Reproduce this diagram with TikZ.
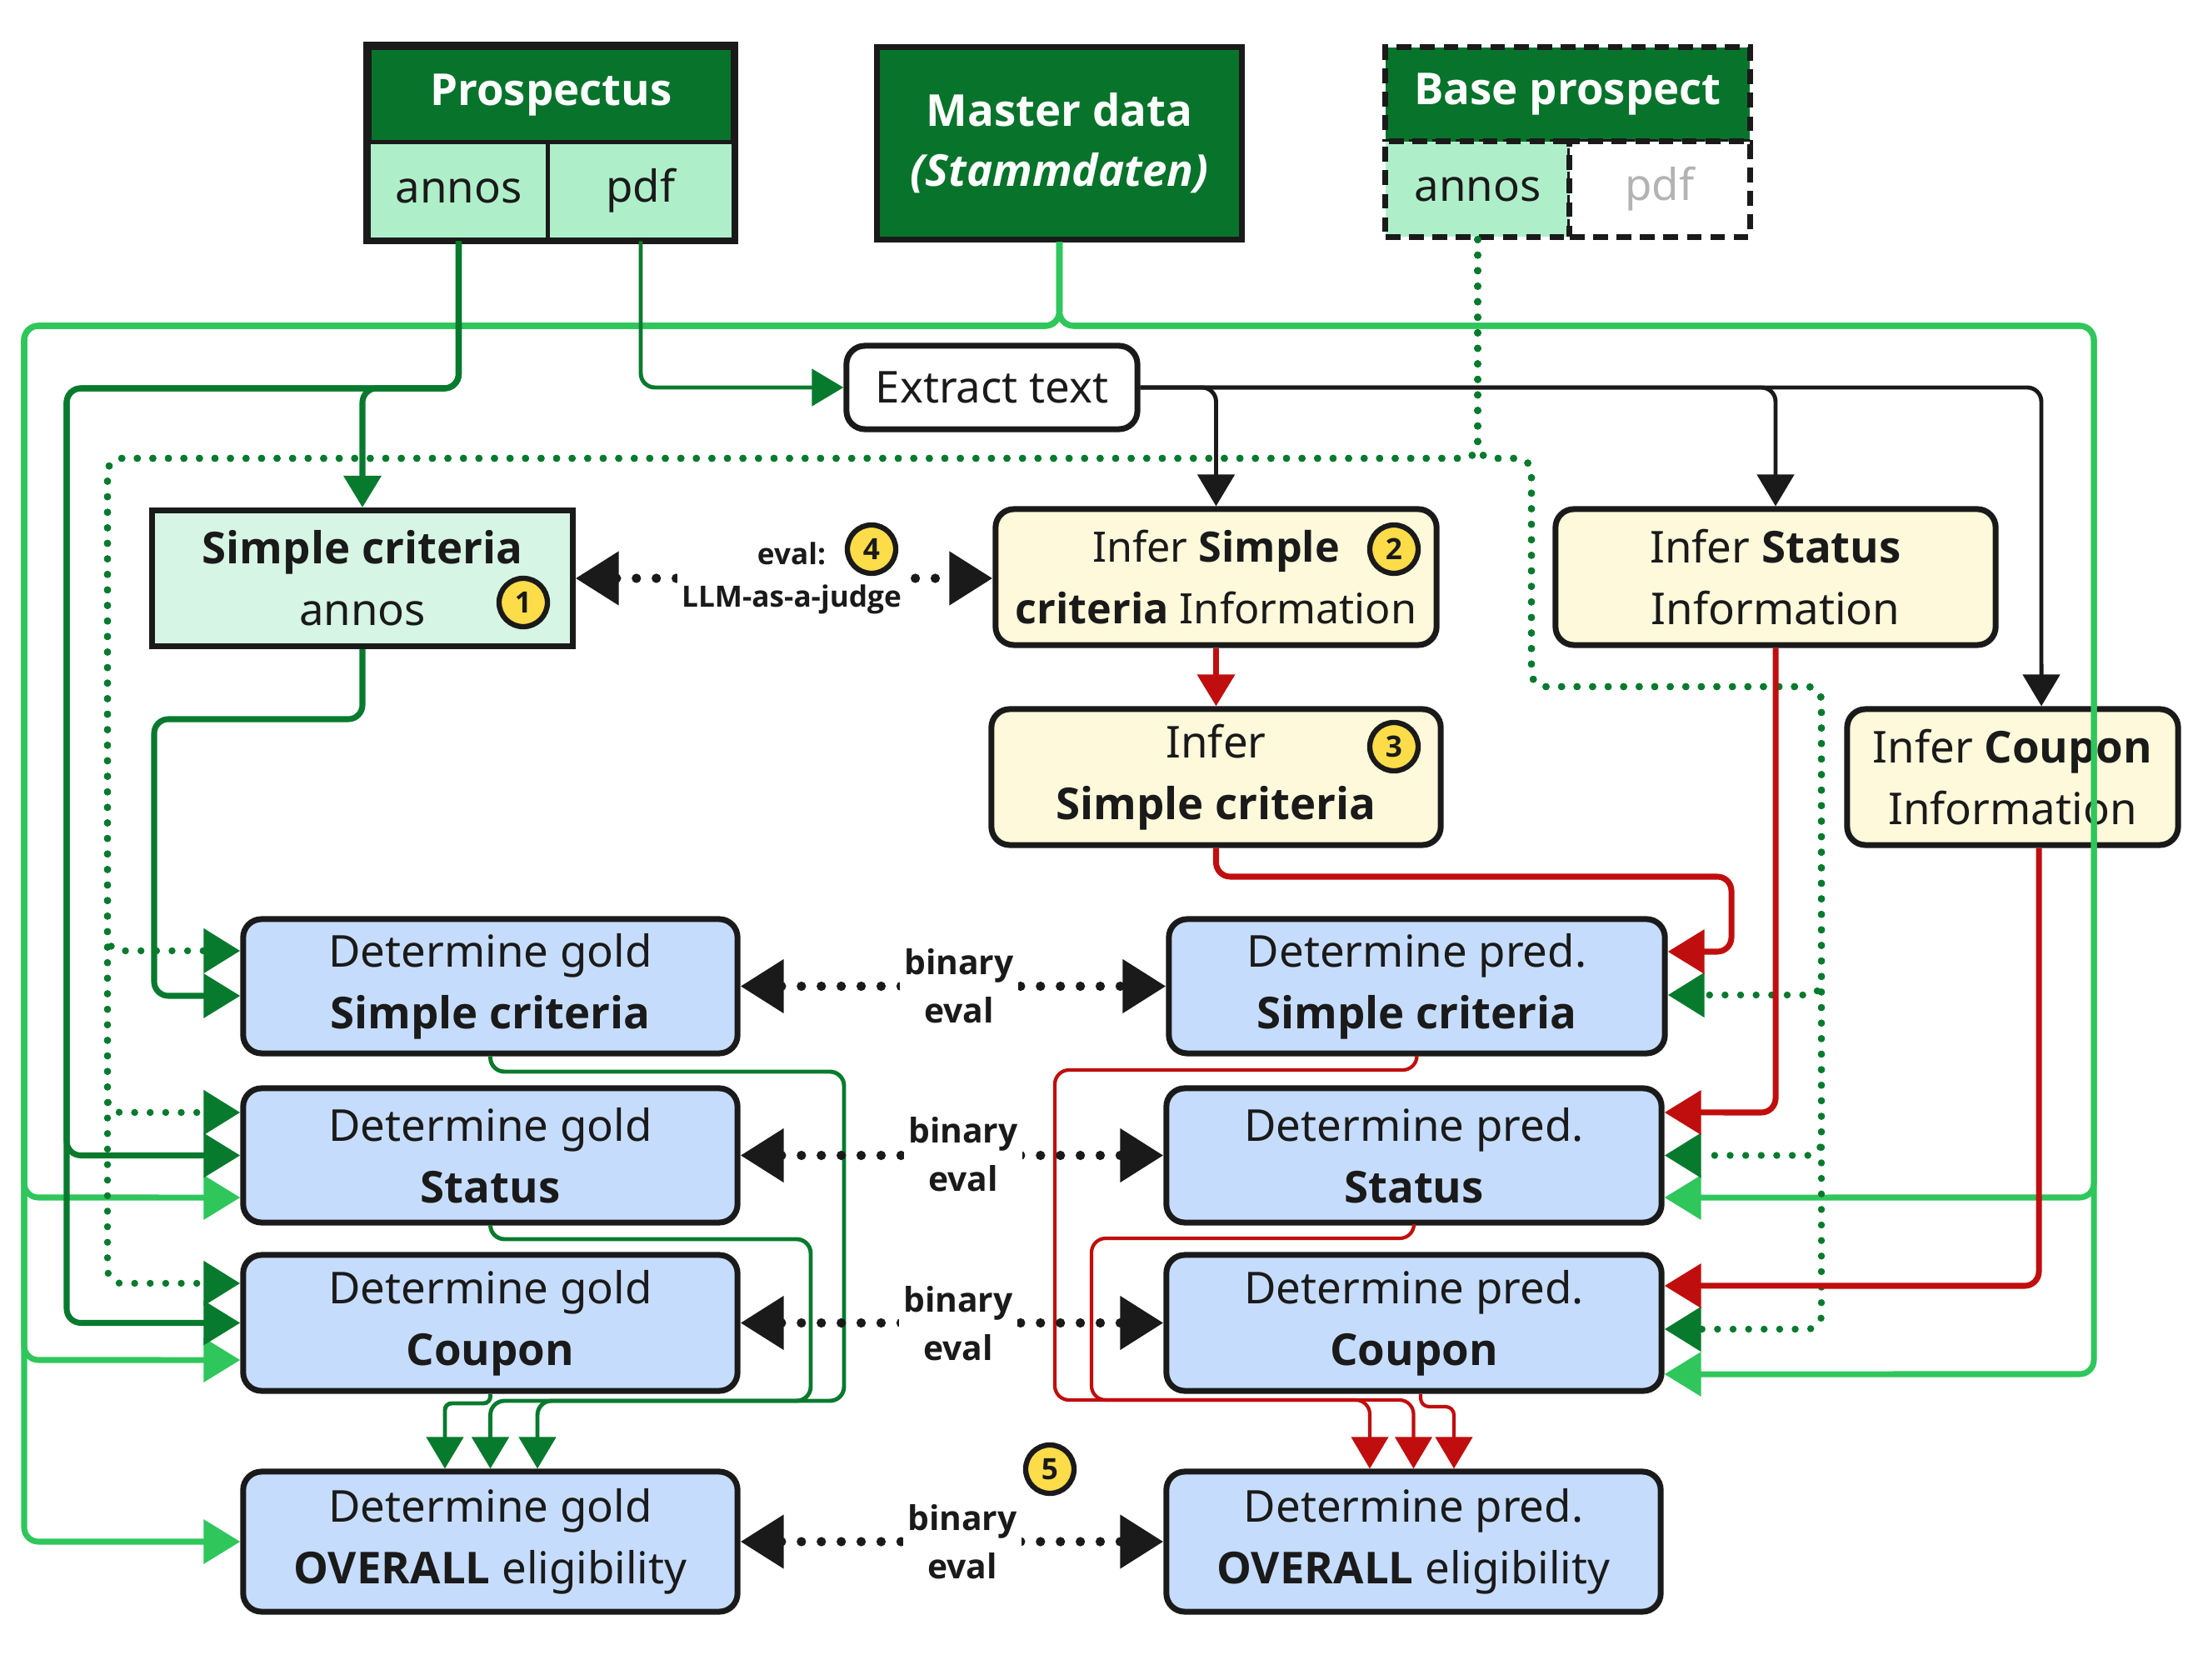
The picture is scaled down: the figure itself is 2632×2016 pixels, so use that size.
\documentclass[tikz,border=0pt]{standalone}
\usepackage{fontspec}
\setmainfont{Noto Sans}
\newfontfamily\osb{Open Sans}
\newcommand\B[1]{{\osb\bfseries #1}}
\usetikzlibrary{arrows.meta,calc}
\definecolor{hdrgreen}{HTML}{08732B}
\definecolor{lngreen}{HTML}{087A2E}
\definecolor{ltgreen}{HTML}{2FC65C}
\definecolor{mint}{HTML}{AEEFC9}
\definecolor{mintlt}{HTML}{D6F5E4}
\definecolor{cream}{HTML}{FEF9DB}
\definecolor{bluebox}{HTML}{C6DCFC}
\definecolor{redl}{HTML}{C00E0E}
\definecolor{badgey}{HTML}{FDDC4A}
\definecolor{ink}{HTML}{1A1A1A}
\definecolor{greytxt}{HTML}{B3B3B3}
\begin{document}
\begin{tikzpicture}[x=0.01cm,y=-0.01cm,
  base/.style={draw=ink,line width=2pt,text=ink,align=center,inner sep=0pt,font=\fontsize{15}{21}\selectfont},
  hdr/.style={base,fill=hdrgreen,text=white,font=\fontsize{15}{20.5}\selectfont\osb\bfseries},
  cell/.style={base,fill=mint,line width=1.4pt},
  dsh/.style={dash pattern=on 5pt off 3pt},
  rbox/.style={base,rounded corners=0.22cm},
  bluen/.style={rbox,fill=bluebox,minimum width=5.93cm,minimum height=1.61cm},
  infer/.style={rbox,fill=cream,minimum height=1.63cm},
  badge/.style={circle,draw=ink,line width=1.8pt,fill=badgey,inner sep=0pt,minimum size=0.58cm,font=\fontsize{10}{10}\selectfont\osb\bfseries,text=ink},
  lbl/.style={fill=white,inner sep=1.5pt,align=center,text=ink,font=\fontsize{10}{14.5}\selectfont\osb\bfseries},
  lblb/.style={fill=white,inner sep=1.5pt,align=center,text=ink,font=\fontsize{11.6}{16.5}\selectfont\osb\bfseries},
  conn/.style={rounded corners=0.17cm},
  tipS/.style={-{Triangle[length=0.38cm,width=0.44cm]}},
  tipL/.style={-{Triangle[length=0.44cm,width=0.52cm]}},
  dkthick/.style={conn,draw=lngreen,line width=2pt},
  dkthin/.style={conn,draw=lngreen,line width=1.4pt},
  ltline/.style={conn,draw=ltgreen,line width=2pt},
  dotg/.style={conn,draw=lngreen,line width=2.4pt,line cap=round,dash pattern=on 0pt off 5.3pt},
  blk/.style={conn,draw=ink,line width=1.4pt},
  redthick/.style={conn,draw=redl,line width=2pt},
  redthin/.style={conn,draw=redl,line width=1.2pt},
  dotb/.style={draw=ink,line width=3.2pt,line cap=round,dash pattern=on 0pt off 6.8pt,
    {Triangle[length=0.52cm,width=0.62cm]}-{Triangle[length=0.52cm,width=0.62cm]}}
]
\useasboundingbox (0,0) rectangle (2632,2016);

% ---------- top sources ----------
\node[hdr,minimum width=4.37cm,minimum height=1.14cm] (proshdr) at (661.5,114) {Prospectus};
\node[cell,minimum width=2.15cm,minimum height=1.16cm] (prosann) at (550.5,229) {annos};
\node[cell,minimum width=2.22cm,minimum height=1.16cm] (prospdf) at (769,229) {pdf};
\draw[ink,line width=2pt] (proshdr.north west) rectangle (prospdf.south east);

\node[hdr,minimum width=4.37cm,minimum height=2.30cm] (master) at (1271.5,172) {Master data\\\itshape(Stammdaten)};

\node[hdr,dsh,minimum width=4.37cm,minimum height=1.13cm] (basehdr) at (1881.5,113.5) {Base prospect};
\node[cell,dsh,line width=2pt,minimum width=2.21cm,minimum height=1.14cm] (baseann) at (1773.5,227) {annos};
\node[base,dsh,fill=white,text=greytxt,minimum width=2.16cm,minimum height=1.14cm] (basepdf) at (1992,227) {pdf};

% ---------- middle nodes ----------
\node[rbox,fill=white,minimum width=3.49cm,minimum height=1.0cm] (extract) at (1190.5,465) {Extract text};
\node[base,fill=mintlt,minimum width=5.04cm,minimum height=1.63cm] (sca) at (435,694) {\B{Simple criteria}\\annos};
\node[infer,minimum width=5.29cm,font=\fontsize{14.3}{21}\selectfont] (infs) at (1459.5,692.5) {Infer \B{Simple}\\\B{criteria} Information};
\node[infer,minimum width=5.28cm] (infst) at (2131,692.5) {Infer \B{Status}\\Information};
\node[infer,minimum width=5.39cm] (infsc) at (1459.5,932.5) {Infer\\\B{Simple criteria}};
\node[infer,minimum width=3.97cm] (infc) at (2415.5,932.5) {Infer \B{Coupon}\\Information};

% ---------- gold / pred ----------
\node[bluen] (g1) at (588.5,1183.5) {Determine gold\\\B{Simple criteria}};
\node[bluen] (g2) at (588.5,1386.5) {Determine gold\\\B{Status}};
\node[bluen,minimum height=1.63cm] (g3) at (588.5,1587.5) {Determine gold\\\B{Coupon}};
\node[bluen,minimum height=1.68cm] (g4) at (588.5,1850) {Determine gold\\\B{OVERALL} eligibility};
\node[bluen,minimum width=5.95cm] (p1) at (1700.5,1183.5) {Determine pred.\\\B{Simple criteria}};
\node[bluen,minimum width=5.94cm] (p2) at (1697,1386.5) {Determine pred.\\\B{Status}};
\node[bluen,minimum width=5.94cm,minimum height=1.63cm] (p3) at (1697,1587.5) {Determine pred.\\\B{Coupon}};
\node[bluen,minimum width=5.93cm,minimum height=1.68cm] (p4) at (1696.5,1850) {Determine pred.\\\B{OVERALL} eligibility};

% ---------- light green from master data ----------
\draw[ltline,tipL] (master.south) -- (1271.5,391) -- (29,391) -- (29,1437) -- ([yshift=-0.505cm]g2.west);
\draw[ltline,tipL] (master.south) -- (1271.5,391) -- (29,391) -- (29,1632) -- ([yshift=-0.445cm]g3.west);
\draw[ltline,tipL] (master.south) -- (1271.5,391) -- (29,391) -- (29,1850) -- (g4.west);
\draw[ltline,tipL] (master.south) -- (1271.5,391) -- (2513,391) -- (2513,1437) -- ([yshift=-0.505cm]p2.east);
\draw[ltline,tipL] (master.south) -- (1271.5,391) -- (2513,391) -- (2513,1649) -- ([yshift=-0.615cm]p3.east);

% ---------- prospectus annos / pdf ----------
\draw[dkthick,tipS] (prosann.south) -- (550.5,466) -- (435,466) -- (sca.north);
\draw[dkthick,tipL] (prosann.south) -- (550.5,466) -- (80,466) -- (80,1386.5) -- (g2.west);
\draw[dkthick,tipL] (prosann.south) -- (550.5,466) -- (80,466) -- (80,1587.5) -- (g3.west);
\draw[dkthick,tipL] (sca.south) -- (435,863) -- (185,863) -- (185,1195) -- ([yshift=-0.115cm]g1.west);
\draw[dkthin,tipS] (prospdf.south) -- (769,465) -- (extract.west);

% ---------- base prospect annos (dotted) ----------
\draw[dotg,tipL] (baseann.south) -- (1773.5,550) -- (129,550) -- (129,1141) -- ([yshift=0.425cm]g1.west);
\draw[dotg,tipL] (baseann.south) -- (1773.5,550) -- (129,550) -- (129,1335) -- ([yshift=0.515cm]g2.west);
\draw[dotg,tipL] (baseann.south) -- (1773.5,550) -- (129,550) -- (129,1540) -- ([yshift=0.475cm]g3.west);
\draw[dotg,tipL] (baseann.south) -- (1773.5,550) -- (1838,550) -- (1838,824) -- (2186,824) -- (2186,1194) -- ([yshift=-0.105cm]p1.east);
\draw[dotg,tipL] (baseann.south) -- (1773.5,550) -- (1838,550) -- (1838,824) -- (2186,824) -- (2186,1386.5) -- (p2.east);
\draw[dotg,tipL] (baseann.south) -- (1773.5,550) -- (1838,550) -- (1838,824) -- (2186,824) -- (2186,1595) -- ([yshift=-0.075cm]p3.east);

% ---------- extract text ----------
\draw[blk,tipS] (extract.east) -- (1459.5,465) -- (infs.north);
\draw[blk,tipS] (extract.east) -- (2131,465) -- (infst.north);
\draw[blk,tipS] (extract.east) -- (2450,465) -- ([xshift=0.345cm]infc.north);

% ---------- red inference ----------
\draw[redthick,tipS] (infs.south) -- (infsc.north);
\draw[redthick,tipL] (infsc.south) -- (1459.5,1052) -- (2078,1052) -- (2078,1142) -- ([yshift=0.415cm]p1.east);
\draw[redthick,tipL] (infst.south) -- (2131,1335) -- ([yshift=0.515cm]p2.east);
\draw[redthick,tipL] ([xshift=0.315cm]infc.south) -- (2447,1543) -- ([yshift=0.445cm]p3.east);

% ---------- gold -> overall ----------
\draw[dkthin,tipS] (g1.south) -- (588.5,1286) -- (1013,1286) -- (1013,1681) -- (588.5,1681) -- (g4.north);
\draw[dkthin,tipS] (g2.south) -- (588.5,1487) -- (973,1487) -- (973,1681) -- (645,1681) -- ([xshift=0.565cm]g4.north);
\draw[dkthin,tipS,rounded corners=0.08cm] (g3.south) -- (588.5,1684) -- (534,1684) -- ([xshift=-0.545cm]g4.north);

% ---------- pred -> overall ----------
\draw[redthin,tipS] (p1.south) -- (1700.5,1284) -- (1266,1284) -- (1266,1680) -- (1644,1680) -- ([xshift=-0.525cm]p4.north);
\draw[redthin,tipS] (p2.south) -- (1697,1486) -- (1310,1486) -- (1310,1680) -- (1696.5,1680) -- (p4.north);
\draw[redthin,tipS,rounded corners=0.1cm] ([xshift=0.08cm]p3.south) -- (1705,1688) -- (1745,1688) -- ([xshift=0.485cm]p4.north);

% ---------- evaluation arrows ----------
\draw[dotb] (sca.east) -- (infs.west |- sca.east);
\draw[dotb] (g1.east) -- (p1.west);
\draw[dotb] (g2.east) -- (p2.west);
\draw[dotb] (g3.east) -- (p3.west);
\draw[dotb] (g4.east) -- (p4.west);

\node[lbl] (l0) at (950,694) {eval:\\LLM-as-a-judge};
\node[lblb] (l1) at (1151,1183) {binary\\eval};
\node[lblb] (l2) at (1156,1385) {binary\\eval};
\node[lblb] (l3) at (1150,1588) {binary\\eval};
\node[lblb] (l4) at (1155,1850) {binary\\eval};

% ---------- badges ----------
\node[badge] (b1) at (628,723) {1};
\node[badge] (b2) at (1673,659) {2};
\node[badge] (b3) at (1673,896) {3};
\node[badge] (b4) at (1046,659) {4};
\node[badge] (b5) at (1260,1763) {5};
\end{tikzpicture}
\end{document}
